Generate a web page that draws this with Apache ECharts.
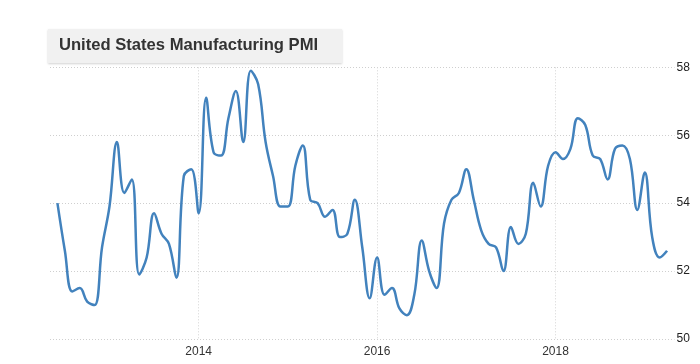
<!DOCTYPE html>
<html>
<head>
<meta charset="utf-8">
<script src="https://cdn.jsdelivr.net/npm/echarts@6/dist/echarts.min.js"></script>
<style>
html,body{margin:0;padding:0;background:#fff;}
#chart{width:700px;height:364px;}
</style>
</head>
<body>
<div id="chart"></div>
<script>
// Months from May 2012 to May 2019 (first and last are padding with no value)
const startYear = 2012, startMonth = 5, monthCount = 85;
const months = [];
for (let i = 0; i < monthCount; i++) {
  const t = startYear * 12 + (startMonth - 1) + i;
  const y = Math.floor(t / 12), m = t % 12 + 1;
  months.push(y + '-' + (m < 10 ? '0' + m : m));
}
// PMI values, Jun 2012 .. Apr 2019
const pmiValues = [
  54.0, 52.6, 51.4, 51.5, 51.1, 51.0, 52.7, 53.9,             // 2012 Jun-Dec, 2013 Jan
  55.8, 54.3, 54.7, 51.9, 52.4, 53.7, 53.1, 52.8, 51.8, 54.8, 55.0, // 2013 Feb-Dec
  53.7, 57.1, 55.5, 55.4, 56.5, 57.3, 55.8, 57.9, 57.5, 55.8, 54.8, 53.9, // 2014
  53.9, 55.1, 55.7, 54.1, 54.0, 53.6, 53.8, 53.0, 53.1, 54.1, 52.7, 51.2, // 2015
  52.4, 51.3, 51.5, 50.9, 50.7, 51.3, 52.9, 52.0, 51.5, 53.4, 54.1, 54.3, // 2016
  55.0, 54.1, 53.2, 52.8, 52.7, 52.0, 53.3, 52.8, 53.1, 54.6, 53.9, 55.1, // 2017
  55.5, 55.3, 55.6, 56.5, 56.3, 55.4, 55.3, 54.7, 55.6, 55.7, 55.3, 53.8, // 2018
  54.9, 53.0, 52.4, 52.6                                       // 2019
];
const seriesData = [null].concat(pmiValues).concat([null]);
const yTicks = [50, 52, 54, 56, 58];
const titleText = 'United States Manufacturing PMI';

const isEvenYearStart = (v) => v.slice(5) === '01' && parseInt(v.slice(0, 4)) % 2 === 0;

const chart = echarts.init(document.getElementById('chart'), null, {renderer: 'canvas'});
chart.setOption({
  animation: false,
  backgroundColor: '#ffffff',
  grid: {left: 50, right: 25.5, top: 67.3, bottom: 25, containLabel: false},
  graphic: [
    {type: 'rect', left: 48, top: 29, shape: {width: 294, height: 34},
     style: {fill: '#f1f1f1', shadowColor: 'rgba(0,0,0,0.18)', shadowBlur: 2, shadowOffsetY: 1}, z: 10},
    {type: 'text', left: 59, top: 36.5, z: 11,
     style: {text: titleText, fill: '#333333', font: 'bold 16.6px "Liberation Sans", Arial, sans-serif'}}
  ],
  xAxis: {
    type: 'category',
    data: months,
    boundaryGap: false,
    axisLine: {show: false},
    axisTick: {show: false},
    axisLabel: {
      interval: (i, v) => isEvenYearStart(v),
      formatter: (v) => v.slice(0, 4),
      color: '#333', fontSize: 12, margin: 7,
      fontFamily: '"Liberation Sans", Arial, sans-serif'
    },
    splitLine: {
      show: true,
      interval: (i, v) => isEvenYearStart(v),
      lineStyle: {color: '#d4d4d4', type: [1, 2], width: 1}
    }
  },
  yAxis: {
    type: 'value',
    position: 'right',
    min: yTicks[0], max: yTicks[yTicks.length - 1], interval: 2,
    axisLine: {show: false},
    axisTick: {show: false},
    axisLabel: {color: '#222', fontSize: 12, margin: 2,
      fontFamily: '"Liberation Sans", Arial, sans-serif'},
    splitLine: {lineStyle: {color: '#cfcfcf', type: [1, 2], width: 1}}
  },
  series: [{
    type: 'line',
    data: seriesData,
    smooth: 0.4,
    showSymbol: false,
    symbol: 'none',
    lineStyle: {color: '#4282bd', width: 2.5},
    itemStyle: {color: '#4282bd'}
  }]
});
</script>
</body>
</html>
